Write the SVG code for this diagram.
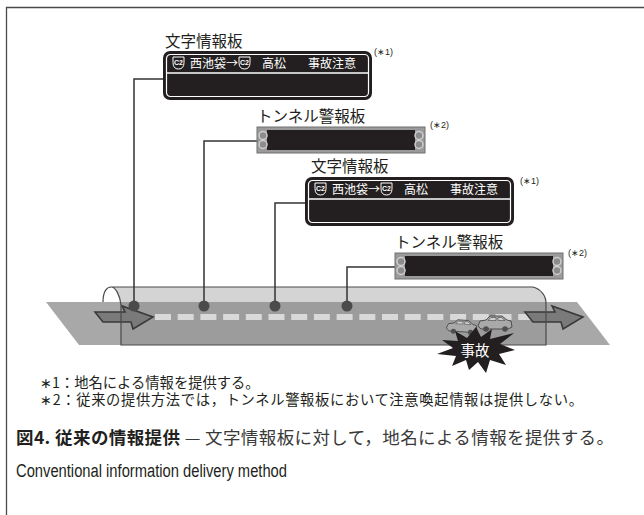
<svg xmlns="http://www.w3.org/2000/svg" width="644" height="515" viewBox="0 0 644 515">
  <style>
    .jp { font-family: "Noto Sans CJK JP", "Liberation Sans", sans-serif; fill: #231f20; }
    .title { font-size: 15.5px; }
    .note { font-size: 9px; font-family: "Liberation Sans", "Noto Sans CJK JP", sans-serif; fill: #231f20; }
    .msg { font-family: "Noto Sans CJK JP", sans-serif; font-size: 12px; fill: #ffffff; }
    .shield { fill: none; stroke: #ffffff; stroke-width: 1; }
    .c2 { font-family: "Liberation Sans", sans-serif; font-size: 7px; font-weight: bold; fill: #ffffff; text-anchor: middle; }
    .post { fill: none; stroke: #333333; stroke-width: 1.5; }
    .dot { fill: #4b4b4b; }
    .lamp { fill: #8c8c8c; stroke: #cfcfcf; stroke-width: 1.5; }
    .arrow { fill: #7a7a7a; stroke: #3a3a3a; stroke-width: 1.6; stroke-linejoin: miter; }
    .car { fill: #a9a9a9; stroke: #444444; stroke-width: 0.9; }
    .win { fill: #d0d0d0; stroke: #444444; stroke-width: 0.6; }
    .wheel { fill: #505050; }
    .dash { fill: #d9d9d9; }
  </style>
  <defs>
    <g id="shieldIcon">
      <path class="shield" d="M0,0 H11 V5.5 Q11,12 5.5,12 Q0,12 0,5.5 Z"/>
      <text class="c2" x="5.5" y="7.5">C2</text>
    </g>
    <g id="msgBoard">
      <rect x="0" y="0" width="207" height="47" rx="6" fill="#231f20" stroke="#231f20" stroke-width="2"/>
      <rect x="2.5" y="2.5" width="202" height="42" rx="4" fill="#231f20" stroke="#ffffff" stroke-width="1.2"/>
      <line x1="3" y1="21" x2="204" y2="21" stroke="#ffffff" stroke-width="1.5"/>
      <use href="#shieldIcon" x="9" y="5"/>
      <text class="msg" x="26" y="16">西池袋→</text>
      <use href="#shieldIcon" x="75" y="5"/>
      <text class="msg" x="98" y="16">高松</text>
      <text class="msg" x="144" y="16">事故注意</text>
    </g>
    <g id="tunnelBoard">
      <rect x="0" y="0" width="168" height="26" fill="#9a9a9a" stroke="#707070" stroke-width="1"/>
      <rect x="10" y="3" width="148" height="20" fill="#231f20"/>
      <circle class="lamp" cx="6" cy="8.5" r="4"/>
      <circle class="lamp" cx="6" cy="17.5" r="4"/>
      <circle class="lamp" cx="162" cy="8.5" r="4"/>
      <circle class="lamp" cx="162" cy="17.5" r="4"/>
    </g>
    <polygon id="flowArrow" class="arrow" points="0,-5 30,-5 27,-11 58,0 38,12 36,5 8,5"/>
    <g id="sedan">
      <path class="car" d="M0,10 L2,5 L8,4 L12,0 L24,0 L29,4 L33,5 L34,11 L30,13 L3,13 Z"/>
      <path class="win" d="M10,4.5 L13,1.5 L18,1.5 L18,4.5 Z"/>
      <path class="win" d="M20,4.5 L20,1.5 L23.5,1.5 L27,4.5 Z"/>
      <circle class="wheel" cx="8" cy="13" r="2.8"/>
      <circle class="wheel" cx="27" cy="13" r="2.8"/>
    </g>
  </defs>

  <!-- figure frame -->
  <path d="M6.5,515 V7.5 H644" fill="none" stroke="#4a4a4a" stroke-width="1.3"/>

  <!-- road and tunnel -->
  <g id="road">
    <polygon points="46,302 577,302 610,345 79,345" fill="#a8a8a9"/>
  </g>
  <g id="tunnel">
    <rect x="121" y="302" width="425" height="43" fill="#9c9c9d"/>
    <path d="M111,287 H533 C540,289 545,296 546,302 H120 C119,295 115,287 111,287 Z" fill="#d4d4d4"/>
  </g>
  <g id="lane-marks">
    <rect class="dash" x="155" y="314" width="16" height="6"/>
    <rect class="dash" x="177.7" y="314" width="16" height="6"/>
    <rect class="dash" x="200.4" y="314" width="16" height="6"/>
    <rect class="dash" x="223.1" y="314" width="16" height="6"/>
    <rect class="dash" x="245.8" y="314" width="16" height="6"/>
    <rect class="dash" x="268.5" y="314" width="16" height="6"/>
    <rect class="dash" x="291.2" y="314" width="16" height="6"/>
    <rect class="dash" x="313.9" y="314" width="16" height="6"/>
    <rect class="dash" x="336.6" y="314" width="16" height="6"/>
    <rect class="dash" x="359.3" y="314" width="16" height="6"/>
    <rect class="dash" x="382" y="314" width="16" height="6"/>
    <rect class="dash" x="404.7" y="314" width="16" height="6"/>
    <rect class="dash" x="427.4" y="314" width="16" height="6"/>
    <rect class="dash" x="450.1" y="314" width="16" height="6"/>
    <rect class="dash" x="472.8" y="314" width="16" height="6"/>
    <rect class="dash" x="495.5" y="314" width="16" height="6"/>
    <rect class="dash" x="518.2" y="314" width="16" height="6"/>
  </g>
  <g id="traffic-arrows">
    <use href="#flowArrow" x="95" y="317"/>
    <use href="#flowArrow" x="525" y="317"/>
  </g>
  <g id="tunnel-outline" fill="none" stroke="#4a4a4a" stroke-width="1.2">
    <path d="M103,302 C103,291 107,287 111,287 H533 C541,289 546,296 546,303 V345 H121 V305 C120,296 116,287 111,287"/>
  </g>

  <!-- collision -->
  <g id="accident">
    <use href="#sedan" transform="translate(447,319) rotate(4) scale(0.9)"/>
    <use href="#sedan" x="478" y="316"/>
    <polygon fill="#231f20" points="476,327 481,337 492,329 490,339 514,333 500,344 515,350 499,354 506,365 490,360 486,373 478,362 469,370 466,360 452,366 456,356 437,354 453,348 442,340 458,341 455,331 467,338"/>
    <text x="475" y="356" font-family="Noto Sans CJK JP, sans-serif" font-size="14.5" text-anchor="middle" fill="#ffffff">事故</text>
  </g>

  <!-- connectors: sign posts -->
  <g id="connectors">
    <path class="post" d="M134,306 V79 H163"/>
    <path class="post" d="M204,306 V141 H257"/>
    <path class="post" d="M275,306 V203 H307"/>
    <path class="post" d="M347,306 V267 H395"/>
    <circle class="dot" cx="134" cy="306" r="5.5"/>
    <circle class="dot" cx="204" cy="306" r="5.5"/>
    <circle class="dot" cx="275" cy="306" r="5.5"/>
    <circle class="dot" cx="347" cy="306" r="5.5"/>
  </g>

  <!-- signs -->
  <g id="msg-board-1">
    <text class="jp title" x="165" y="47">文字情報板</text>
    <use href="#msgBoard" x="164" y="52"/>
    <text class="note" x="374" y="55">(∗1)</text>
  </g>
  <g id="tunnel-board-1">
    <text class="jp title" x="257" y="122">トンネル警報板</text>
    <use href="#tunnelBoard" x="257" y="127"/>
    <text class="note" x="430" y="128">(∗2)</text>
  </g>
  <g id="msg-board-2">
    <text class="jp title" x="311" y="172">文字情報板</text>
    <use href="#msgBoard" x="306" y="178"/>
    <text class="note" x="520" y="184">(∗1)</text>
  </g>
  <g id="tunnel-board-2">
    <text class="jp title" x="395" y="248">トンネル警報板</text>
    <use href="#tunnelBoard" x="395" y="253"/>
    <text class="note" x="568" y="256">(∗2)</text>
  </g>

  <!-- notes -->
  <g id="notes" class="jp" font-size="14.3">
    <text x="40" y="388">∗1：地名による情報を提供する。</text>
    <text x="40" y="405" textLength="543" lengthAdjust="spacing">∗2：従来の提供方法では，トンネル警報板において注意喚起情報は提供しない。</text>
  </g>

  <!-- caption -->
  <g id="caption">
    <text class="jp" x="16" y="444" font-size="17.5" textLength="598" lengthAdjust="spacing"><tspan font-weight="bold">図4. 従来の情報提供</tspan><tspan fill="#3a3a3a"> — 文字情報板に対して，地名による情報を提供する。</tspan></text>
    <text x="16" y="477" font-family="Liberation Sans, sans-serif" font-size="18" fill="#231f20" textLength="271" lengthAdjust="spacingAndGlyphs">Conventional information delivery method</text>
  </g>
</svg>
